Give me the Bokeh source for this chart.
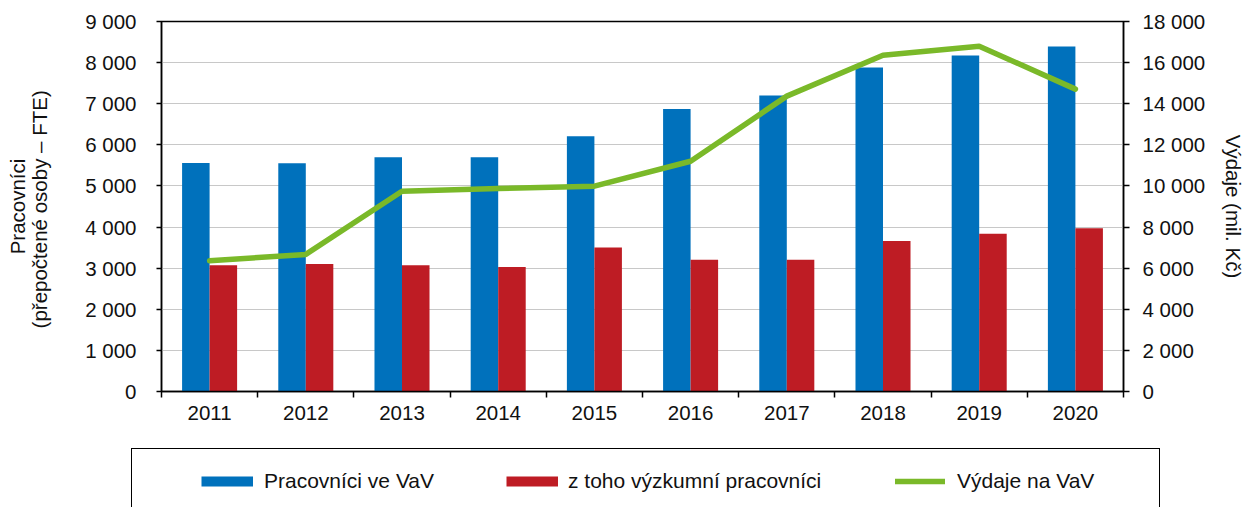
from bokeh.plotting import figure
from bokeh.layouts import column
from bokeh.models import (Range1d, LinearAxis, FixedTicker, Legend, LegendItem,
                          ColumnDataSource)
from bokeh.transform import dodge
from bokeh.embed import file_html
from bokeh.resources import INLINE

# ---- data ----
years = ["2011", "2012", "2013", "2014", "2015", "2016", "2017", "2018", "2019", "2020"]
workers = [5560, 5550, 5700, 5700, 6210, 6870, 7200, 7880, 8170, 8390]          # Pracovníci ve VaV
researchers = [3070, 3100, 3070, 3030, 3500, 3205, 3205, 3660, 3840, 3970]      # z toho výzkumní pracovníci
expenditure = [6360, 6670, 9740, 9870, 9990, 11200, 14370, 16360, 16800, 14710]  # Výdaje na VaV (mil. Kč)

left_ticks = [0, 1000, 2000, 3000, 4000, 5000, 6000, 7000, 8000, 9000]
left_tick_labels = ["0", "1 000", "2 000", "3 000", "4 000", "5 000", "6 000", "7 000", "8 000", "9 000"]
right_ticks = [0, 2000, 4000, 6000, 8000, 10000, 12000, 14000, 16000, 18000]
right_tick_labels = ["0", "2 000", "4 000", "6 000", "8 000", "10 000", "12 000", "14 000", "16 000", "18 000"]

label_workers = "Pracovníci ve VaV"
label_researchers = "z toho výzkumní pracovníci"
label_exp = "Výdaje na VaV"
left_title = "Pracovníci\n(přepočtené osoby  – FTE)"
right_title = "Výdaje (mil. Kč)"

# ---- style ----
BLUE = "#0071BC"
RED = "#BE1C24"
GREEN = "#7AB929"
FONT = "Liberation Sans"
TICK_FS = "20.5px"
LEG_FS = "21px"
TXT = "#111111"
W = 1243

n = len(years)
centers = [i + 0.5 for i in range(n)]
bounds = [i for i in range(n + 1)]

src = ColumnDataSource(dict(x=centers, workers=workers, researchers=researchers,
                            expenditure=expenditure))

p = figure(width=W, height=440, frame_width=962, frame_height=370,
           min_border_left=161, min_border_right=120, min_border_top=21, min_border_bottom=49,
           x_range=Range1d(0, n), y_range=Range1d(0, 9000),
           output_backend="svg", toolbar_location=None, background_fill_color="white",
           border_fill_color="white")
p.extra_y_ranges = {"exp": Range1d(0, 18000)}

bw = 0.286
p.vbar(x=dodge("x", -bw / 2, range=p.x_range), top="workers", width=bw, source=src,
       fill_color=BLUE, line_color=None)
p.vbar(x=dodge("x", bw / 2, range=p.x_range), top="researchers", width=bw, source=src,
       fill_color=RED, line_color=None)
p.line(x="x", y="expenditure", source=src, y_range_name="exp",
       line_color=GREEN, line_width=5.5, line_join="round", line_cap="round")

# axes
p.xaxis.ticker = FixedTicker(ticks=centers, minor_ticks=bounds)
p.xaxis.major_label_overrides = {c: y for c, y in zip(centers, years)}
p.xaxis.major_tick_out = 6
p.xaxis.major_tick_in = 0
p.xaxis.minor_tick_line_color = "black"
p.xaxis.minor_tick_line_width = 1.5
p.xaxis.minor_tick_out = 6
p.xaxis.minor_tick_in = 0
p.xaxis.major_label_standoff = 8

p.yaxis.ticker = FixedTicker(ticks=left_ticks, minor_ticks=[])
p.yaxis.major_label_overrides = {t: l for t, l in zip(left_ticks, left_tick_labels)}
p.yaxis.major_tick_out = 5
p.yaxis.major_tick_in = 0
p.yaxis.major_label_standoff = 20
p.yaxis.axis_label = left_title
p.yaxis.axis_label_standoff = 31
p.yaxis.axis_label_text_line_height = 0.95

ra = LinearAxis(y_range_name="exp", ticker=FixedTicker(ticks=right_ticks, minor_ticks=[]),
                axis_label=right_title)
ra.major_label_overrides = {t: l for t, l in zip(right_ticks, right_tick_labels)}
ra.major_tick_out = 6
ra.major_tick_in = 0
ra.major_label_standoff = 13
ra.axis_label_standoff = 14
p.add_layout(ra, "right")

for ax in [p.xaxis[0], p.yaxis[0], ra]:
    ax.axis_line_color = "black"
    ax.axis_line_width = 1.5
    ax.major_tick_line_width = 1.5
    ax.major_tick_line_color = "black"
    ax.major_label_text_font = FONT
    ax.major_label_text_font_size = TICK_FS
    ax.major_label_text_color = TXT
    ax.axis_label_text_font = FONT
    ax.axis_label_text_font_size = TICK_FS
    ax.axis_label_text_font_style = "normal"
    ax.axis_label_text_color = TXT
p.xaxis.major_tick_line_color = None

p.xgrid.grid_line_color = None
p.ygrid.ticker = FixedTicker(ticks=left_ticks, minor_ticks=[])
p.ygrid.grid_line_color = "#C8C8C8"
p.ygrid.grid_line_width = 1.2

p.outline_line_color = "black"
p.outline_line_width = 1.5

# ---- legend strip: second figure whose frame is the whole canvas ----
LH = 67
p2 = figure(width=W, height=LH, frame_width=W, frame_height=LH,
            min_border=0, min_border_left=0, min_border_right=0,
            min_border_top=0, min_border_bottom=0,
            x_range=Range1d(0, W), y_range=Range1d(0, LH),
            x_axis_location=None, y_axis_location=None,
            output_backend="svg", toolbar_location=None,
            background_fill_color="white", border_fill_color="white")
p2.grid.visible = False
p2.outline_line_color = None

# legend proxies: real series, lying far above this strip's range (so clipped away)
px_w = p2.line(x="x", y="workers", source=src, line_color=BLUE, line_width=10, line_cap="butt")
px_r = p2.line(x="x", y="researchers", source=src, line_color=RED, line_width=10, line_cap="butt")
px_e = p2.line(x="x", y="expenditure", source=src, line_color=GREEN, line_width=5.5,
               line_cap="round")
px_box = p2.line(x="x", y="workers", source=src, line_alpha=0)

# legend frame (drawn as an empty legend box, its bottom edge falls below the page)
box = Legend(items=[LegendItem(label=" ", renderers=[px_box])], location=(131, -13),
             padding=0, margin=0, glyph_width=0, glyph_height=70, label_height=70,
             label_width=1027, label_standoff=0, border_line_color="black",
             border_line_width=1.3, border_line_alpha=1, background_fill_alpha=0,
             label_text_font=FONT, label_text_font_size=LEG_FS)
p2.add_layout(box)


def item_legend(label, rend, x, gw, standoff):
    lg = Legend(items=[LegendItem(label=label, renderers=[rend])], location=(x, 11),
                padding=0, margin=0, glyph_width=gw, glyph_height=30, label_height=30,
                label_standoff=standoff, border_line_alpha=0, background_fill_alpha=0,
                label_text_font=FONT, label_text_font_size=LEG_FS, label_text_color=TXT)
    p2.add_layout(lg)


item_legend(label_workers, px_w, 201, 52, 11)
item_legend(label_researchers, px_r, 506, 52, 10)
item_legend(label_exp, px_e, 895, 50, 12)

layout = column(p, p2, spacing=0)
open("out.html", "w").write(file_html(layout, INLINE))
